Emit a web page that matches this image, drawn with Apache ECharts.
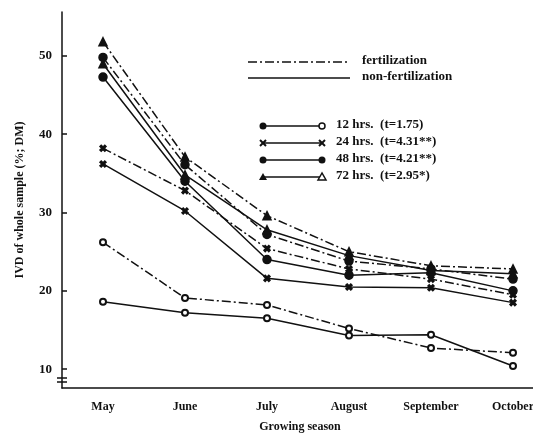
<!DOCTYPE html>
<html>
<head>
<meta charset="utf-8">
<script src="https://cdn.jsdelivr.net/npm/echarts@6/dist/echarts.min.js"></script>
<style>
  html, body { margin: 0; padding: 0; background: #fff; }
  #main { width: 533px; height: 433px; }
</style>
</head>
<body>
<div id="main"></div>
<script>
var months = ['May', 'June', 'July', 'August', 'September', 'October'];
var yTicks = [10, 20, 30, 40, 50];

// fertilization (dash-dot)
var fert12 = [26.2, 19.1, 18.2, 15.2, 12.7, 12.1];
var fert24 = [38.2, 32.8, 25.4, 22.8, 21.5, 19.5];
var fert48 = [49.8, 36.1, 27.2, 23.8, 22.8, 21.5];
var fert72 = [51.8, 37.1, 29.6, 25.0, 23.2, 22.8];
// non-fertilization (solid)
var non12 = [18.6, 17.2, 16.5, 14.3, 14.4, 10.4];
var non24 = [36.2, 30.2, 21.6, 20.5, 20.4, 18.5];
var non48 = [47.3, 34.0, 24.0, 22.0, 22.3, 20.0];
var non72 = [49.0, 34.8, 27.8, 24.5, 22.6, 22.2];

var legendRows = ['12 hrs.  (t=1.75)', '24 hrs.  (t=4.31**)', '48 hrs.  (t=4.21**)', '72 hrs.  (t=2.95*)'];

var FONT = '"Liberation Serif", "DejaVu Serif", serif';
var DASHDOT = [9, 3, 2, 3];
var CROSS = 'path://M0,2L2,0L5,3L8,0L10,2L7,5L10,8L8,10L5,7L2,10L0,8L3,5Z';

function mkSeries(name, data, dashed, symbol, size) {
  return {
    name: name,
    type: 'line',
    data: data,
    symbol: symbol,
    symbolSize: size,
    showSymbol: true,
    z: 3,
    lineStyle: { color: '#111', width: 1.5, type: dashed ? DASHDOT : 'solid' },
    itemStyle: { color: '#111', borderColor: '#111', borderWidth: 1.5 }
  };
}

var series = [
  mkSeries('fert 12', fert12, true, 'emptyCircle', 6),
  mkSeries('fert 24', fert24, true, CROSS, 6),
  mkSeries('fert 48', fert48, true, 'circle', 8),
  mkSeries('fert 72', fert72, true, 'triangle', 8),
  mkSeries('non 12', non12, false, 'emptyCircle', 6),
  mkSeries('non 24', non24, false, CROSS, 6),
  mkSeries('non 48', non48, false, 'circle', 8),
  mkSeries('non 72', non72, false, 'triangle', 8)
];

// legend drawn by hand
var graphics = [];
graphics.push({ type: 'line', shape: { x1: 248, y1: 62, x2: 350, y2: 62 }, style: { stroke: '#111', lineWidth: 1.5, lineDash: DASHDOT } });
graphics.push({ type: 'line', shape: { x1: 248, y1: 78, x2: 350, y2: 78 }, style: { stroke: '#111', lineWidth: 1.5 } });
graphics.push({ type: 'text', left: 362, top: 54, style: { text: 'fertilization', font: 'bold 13px ' + FONT, fill: '#111' } });
graphics.push({ type: 'text', left: 362, top: 70, style: { text: 'non-fertilization', font: 'bold 13px ' + FONT, fill: '#111' } });

var leftSym = ['circle', 'cross', 'circle', 'triangle'];
var rightSym = ['empty', 'cross', 'circle', 'emptyTriangle'];
for (var i = 0; i < legendRows.length; i++) {
  var y = 126 + i * 17;
  graphics.push({ type: 'line', shape: { x1: 263, y1: y, x2: 322, y2: y }, style: { stroke: '#111', lineWidth: 1.5 } });
  [[263, leftSym[i]], [322, rightSym[i]]].forEach(function (m) {
    var x = m[0], k = m[1];
    if (k === 'circle') graphics.push({ type: 'circle', shape: { cx: x, cy: y, r: 3.5 }, style: { fill: '#111' } });
    else if (k === 'empty') graphics.push({ type: 'circle', shape: { cx: x, cy: y, r: 3 }, style: { fill: '#fff', stroke: '#111', lineWidth: 1.5 } });
    else if (k === 'cross') graphics.push({ type: 'polyline', shape: { points: [[x - 3, y - 3], [x + 3, y + 3]] }, style: { stroke: '#111', lineWidth: 2 } },
      { type: 'polyline', shape: { points: [[x - 3, y + 3], [x + 3, y - 3]] }, style: { stroke: '#111', lineWidth: 2 } });
    else if (k === 'triangle') graphics.push({ type: 'polygon', shape: { points: [[x, y - 4], [x - 4, y + 3], [x + 4, y + 3]] }, style: { fill: '#111' } });
    else graphics.push({ type: 'polygon', shape: { points: [[x, y - 4], [x - 4, y + 3], [x + 4, y + 3]] }, style: { fill: '#fff', stroke: '#111', lineWidth: 1.5 } });
  });
  graphics.push({ type: 'text', left: 336, top: y - 8, style: { text: legendRows[i], font: 'bold 13px ' + FONT, fill: '#111' } });
}
// axis break marks
graphics.push({ type: 'line', shape: { x1: 57, y1: 378, x2: 67, y2: 378 }, style: { stroke: '#111', lineWidth: 1.5 } });
graphics.push({ type: 'line', shape: { x1: 57, y1: 382, x2: 67, y2: 382 }, style: { stroke: '#111', lineWidth: 1.5 } });

var chart = echarts.init(document.getElementById('main'), null, { renderer: 'canvas' });
chart.setOption({
  backgroundColor: '#fff',
  animation: false,
  grid: { left: 62, width: 492, top: 12, bottom: 45, containLabel: false, outerBoundsMode: 'none' },
  xAxis: {
    type: 'category',
    data: months,
    boundaryGap: true,
    name: 'Growing season',
    nameLocation: 'middle',
    nameGap: 33,
    nameTextStyle: { fontFamily: FONT, fontWeight: 'bold', fontSize: 12, color: '#111', padding: [0, 16, 0, 0] },
    axisLine: { lineStyle: { color: '#111', width: 1.5 } },
    axisTick: { inside: true, alignWithLabel: true, length: 5, lineStyle: { color: '#111', width: 1.5 } },
    axisLabel: { fontFamily: FONT, fontWeight: 'bold', fontSize: 12, color: '#111', margin: 13 },
    splitLine: { show: false }
  },
  yAxis: {
    type: 'value',
    min: 7.6,
    max: 55.6,
    name: 'IVD of whole sample (%; DM)',
    nameLocation: 'middle',
    nameRotate: 90,
    nameGap: 36,
    nameTextStyle: { fontFamily: FONT, fontWeight: 'bold', fontSize: 12, color: '#111' },
    axisLine: { show: true, lineStyle: { color: '#111', width: 1.5 } },
    axisTick: { show: true, inside: true, length: 5, customValues: yTicks, lineStyle: { color: '#111', width: 1.5 } },
    axisLabel: { fontFamily: FONT, fontWeight: 'bold', fontSize: 13, color: '#111', margin: 10, customValues: yTicks },
    splitLine: { show: false }
  },
  series: series,
  graphic: graphics
});
</script>
</body>
</html>
